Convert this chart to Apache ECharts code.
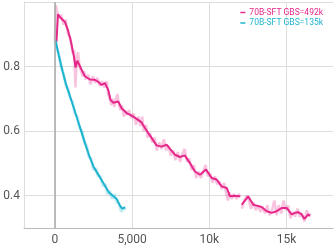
<!DOCTYPE html>
<html><head><meta charset="utf-8">
<script src="https://cdn.jsdelivr.net/npm/echarts@6/dist/echarts.min.js"></script>
<style>html,body{margin:0;padding:0;background:#fff}#c{width:336px;height:246px}</style>
</head><body><div id="c"></div>
<script>
var seriesNames = ['70B-SFT GBS=492k', '70B-SFT GBS=135k'];
var xTicks = [0, 5000, 10000, 15000];
var xTickLabels = ['0', '5,000', '10k', '15k'];
var yTicks = [0.4, 0.6, 0.8];

// 492k smoothed
var pinkX = [100,200,350,650,850,1050,1250,1340,1450,1550,1730,1940,2270,2590,2800,3020,3240,3450,3600,3780,4100,4320,4640,4970,5290,5610,5830,6040,6260,6580,6910,7230,7450,7770,8100,8400,8740,9060,9390,9780,10150,10470,10790,11120,11330,11550,11980,12040,12090,12300,12510,12840,13000,13380,13710,14030,14350,14680,15000,15320,15540,15750,15970,16150,16400,16500];
var pinkY = [0.877,0.962,0.952,0.938,0.912,0.875,0.826,0.797,0.818,0.815,0.790,0.770,0.760,0.759,0.753,0.743,0.749,0.728,0.697,0.688,0.692,0.671,0.656,0.648,0.638,0.627,0.610,0.594,0.579,0.556,0.552,0.558,0.545,0.527,0.520,0.525,0.501,0.475,0.465,0.481,0.455,0.450,0.429,0.424,0.398,0.400,0.398,null,0.372,0.385,0.398,0.372,0.370,0.365,0.352,0.347,0.352,0.362,0.362,0.342,0.347,0.349,0.342,0.328,0.342,0.338];
// 492k raw
var pinkRawX = [0,60,150,250,400,550,700,850,1000,1150,1250,1330,1420,1500,1600,1700,1800,1900,2000,2150,2300,2450,2600,2750,2900,3050,3200,3350,3450,3550,3650,3750,3850,3950,4050,4150,4250,4350,4450,4550,4650,4800,4950,5100,5250,5400,5550,5650,5750,5900,6000,6150,6300,6450,6600,6750,6900,7050,7200,7350,7500,7650,7800,7950,8100,8250,8400,8550,8700,8850,9000,9150,9300,9450,9600,9750,9900,10050,10200,10350,10500,10650,10800,10950,11100,11200,11300,11450,11600,11750,11900,12000,12040,12100,12250,12400,12550,12700,12850,13000,13150,13300,13450,13600,13750,13900,14050,14200,14350,14500,14650,14800,14950,15100,15250,15400,15550,15700,15850,16000,16150,16300,16450,16550];
var pinkRawY = [0.88,0.99,0.97,0.95,0.96,0.93,0.945,0.90,0.89,0.84,0.85,0.735,0.83,0.845,0.80,0.80,0.77,0.785,0.76,0.775,0.745,0.77,0.75,0.765,0.74,0.755,0.735,0.755,0.715,0.70,0.68,0.70,0.675,0.70,0.715,0.68,0.665,0.68,0.645,0.665,0.65,0.665,0.64,0.655,0.62,0.645,0.615,0.645,0.60,0.62,0.58,0.595,0.565,0.58,0.54,0.565,0.545,0.575,0.54,0.555,0.525,0.54,0.51,0.535,0.505,0.53,0.545,0.505,0.515,0.48,0.495,0.455,0.475,0.455,0.475,0.495,0.46,0.47,0.44,0.46,0.435,0.445,0.42,0.44,0.405,0.385,0.41,0.39,0.405,0.39,0.405,0.395,null,0.36,0.385,0.40,0.385,0.36,0.38,0.355,0.37,0.35,0.365,0.345,0.37,0.34,0.355,0.385,0.34,0.37,0.345,0.385,0.355,0.37,0.33,0.35,0.335,0.36,0.335,0.345,0.32,0.355,0.335,0.345];
// 135k smoothed
var cyanX = [50,250,500,750,1000,1250,1500,1750,2000,2250,2500,2750,3000,3250,3500,3750,4000,4200,4350,4450,4550];
var cyanY = [0.880,0.835,0.785,0.740,0.705,0.668,0.630,0.593,0.555,0.520,0.490,0.470,0.450,0.430,0.410,0.400,0.390,0.370,0.360,0.358,0.364];
// 135k raw
var cyanRawX = [0,100,250,400,550,700,850,1000,1150,1300,1450,1600,1750,1900,2050,2200,2350,2500,2650,2800,2950,3100,3250,3400,3550,3700,3850,4000,4150,4300,4450,4550];
var cyanRawY = [0.88,0.86,0.84,0.80,0.78,0.745,0.73,0.70,0.69,0.655,0.645,0.61,0.60,0.565,0.555,0.52,0.515,0.48,0.485,0.46,0.46,0.43,0.435,0.405,0.415,0.39,0.405,0.38,0.375,0.35,0.365,0.355];

function zip(xs, ys){ return xs.map(function(x,i){ return [x, ys[i]]; }); }

var PINK = '#e5278a', CYAN = '#1db4cf';
var chart = echarts.init(document.getElementById('c'), null, {renderer:'canvas'});
chart.setOption({
  animation: false,
  textStyle: {fontFamily: 'Roboto'},
  grid: {left: 24, right: 3, top: 2, bottom: 18, containLabel: false},
  legend: {
    orient: 'vertical', right: 13, top: 8, itemGap: 1.5, padding: 0,
    itemWidth: 5, itemHeight: 1.5, icon: 'rect', itemStyle: {borderWidth: 0},
    textStyle: {fontSize: 8.5, padding: [0,0,0,-1]},
    data: [
      {name: seriesNames[0], textStyle: {color: PINK}},
      {name: seriesNames[1], textStyle: {color: CYAN}}
    ]
  },
  xAxis: {
    type: 'value', min: -2000, max: 18000,
    axisLine: {show: true, lineStyle: {color: '#bbb', width: 1}},
    axisTick: {show: false, customValues: xTicks},
    axisLabel: {customValues: xTicks, color: '#555', fontSize: 12, margin: 6,
      formatter: function(v){ var i = xTicks.indexOf(v); return i >= 0 ? xTickLabels[i] : ''; }},
    splitLine: {show: true, lineStyle: {color: '#ddd', width: 1}}
  },
  yAxis: {
    type: 'value', min: 0.3, max: 1.0,
    axisLine: {show: true, onZero: false, lineStyle: {color: '#ddd', width: 1}},
    axisTick: {show: false, customValues: [0.4, 0.6, 0.8, 1.0]},
    axisLabel: {customValues: yTicks, color: '#555', fontSize: 12, margin: 4,
      formatter: function(v){ return v.toFixed(1); }},
    splitLine: {show: true, lineStyle: {color: '#ddd', width: 1}}
  },
  series: [
    {name: seriesNames[0] + ' raw', type: 'line', data: zip(pinkRawX, pinkRawY), showSymbol: false, z: 1,
      lineStyle: {color: PINK, width: 2.5, opacity: 0.28}, itemStyle: {color: PINK}, silent: true,
      markLine: {silent: true, symbol: 'none', label: {show: false}, animation: false,
        lineStyle: {color: '#aaa', width: 1.5, type: 'solid'}, data: [{xAxis: 0}]}},
    {name: seriesNames[1] + ' raw', type: 'line', data: zip(cyanRawX, cyanRawY), showSymbol: false, z: 1,
      lineStyle: {color: CYAN, width: 3, opacity: 0.25}, itemStyle: {color: CYAN}, silent: true},
    {name: seriesNames[0], type: 'line', data: zip(pinkX, pinkY), showSymbol: false, z: 3,
      lineStyle: {color: PINK, width: 2}, itemStyle: {color: PINK}},
    {name: seriesNames[1], type: 'line', data: zip(cyanX, cyanY), showSymbol: false, z: 3,
      lineStyle: {color: CYAN, width: 2}, itemStyle: {color: CYAN}}
  ]
});
</script>
</body></html>
